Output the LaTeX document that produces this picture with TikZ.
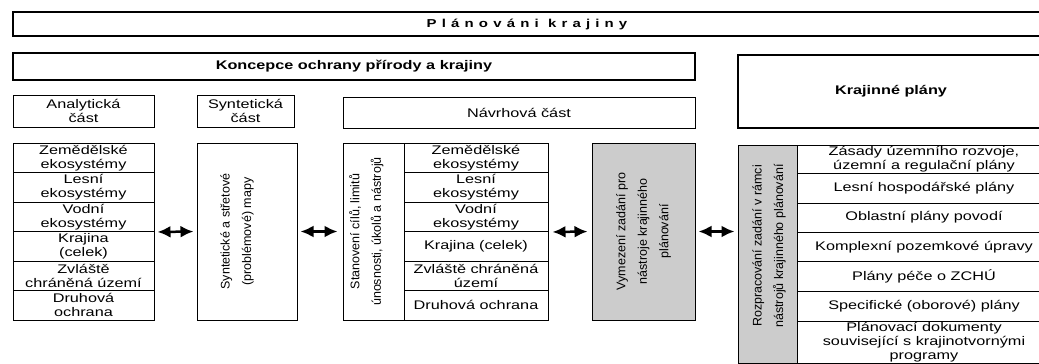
\documentclass[tikz,border=0pt]{standalone}
\usepackage{fontspec}
\setmainfont{Liberation Sans}[FakeStretch=1.3]
\newfontfamily\rotfont{Liberation Sans}
\newfontfamily\titlefont{Liberation Sans}[FakeStretch=1.3,LetterSpace=45]
\usetikzlibrary{arrows.meta}

\tikzset{
  box/.style={draw, line width=1pt, inner sep=0pt, align=center, font=\fontsize{12.5}{14}\selectfont},
  headbox/.style={draw, line width=2pt, inner sep=0pt, font=\bfseries\fontsize{12.5}{14}\selectfont},
  graybox/.style={box, fill=gray!40},
  rottext/.style={rotate=90, align=center, inner sep=0pt, font=\rotfont\fontsize{12.5}{21.5}\selectfont},
  dblarrow/.style={{Latex[length=13pt,width=12pt]}-{Latex[length=13pt,width=12pt]}, line width=2.5pt, shorten <=3pt, shorten >=3pt}
}

\begin{document}
\begin{tikzpicture}[x=1pt,y=-1pt]
\clip (0,0) rectangle (1039,364);
% headings
\node[headbox, minimum width=1028pt, minimum height=24pt] (plan) at (527,24) {\titlefont\bfseries\fontsize{11.5}{14}\selectfont Plánováni krajiny};
\node[headbox, minimum width=682pt, minimum height=27pt] (konc) at (354,66.5) {Koncepce ochrany přírody a krajiny};
\node[headbox, minimum width=306pt, minimum height=73pt] (kplany) at (891,91.5) {Krajinné plány};
\node[box, minimum width=141pt, minimum height=32pt] (anahead) at (83.5,111) {Analytická\\část};
\node[box, minimum width=97pt, minimum height=32pt] (synhead) at (245.5,111) {Syntetická\\část};
\node[box, minimum width=352pt, minimum height=31pt] (navhead) at (519,112.5) {Návrhová část};
% analyticka cast
\foreach \txt [count=\i] in {{Zemědělské\\ekosystémy},{Lesní\\ekosystémy},{Vodní\\ekosystémy},{Krajina\\(celek)},{Zvláště\\chráněná území},{Druhová\\ochrana}}
  \node[box, minimum width=141pt, minimum height=29.5pt] (a\i) at (83.5,{128.25+29.5*\i}) {\txt};
% synteticka cast
\node[box, minimum width=100pt, minimum height=177pt] (synt) at (247,231.5) {};
\node[rottext] (synttxt) at ([xshift=-10pt]synt.center) {Syntetické a střetové\\(problémové) mapy};
% navrhova cast
\node[box, minimum width=61pt, minimum height=177pt] (stan) at (373.5,231.5) {};
\node[rottext] (stantxt) at ([xshift=-7pt]stan.center) {Stanovení cílů, limitů\\únosnosti, úkolů a nástrojů};
\foreach \txt [count=\i] in {{Zemědělské\\ekosystémy},{Lesní\\ekosystémy},{Vodní\\ekosystémy},{Krajina (celek)},{Zvláště chráněná\\území},{Druhová ochrana}}
  \node[box, minimum width=144pt, minimum height=29.5pt] (n\i) at (476,{128.25+29.5*\i}) {\txt};
\node[graybox, minimum width=103pt, minimum height=177pt] (vym) at (643.5,231.5) {};
\node[rottext] (vymtxt) at (vym.center) {Vymezení zadání pro\\nástroje krajinného\\plánování};
% krajinne plany
\node[graybox, minimum width=59pt, minimum height=218pt] (rozp) at (767.5,254) {};
\node[rottext] (rozptxt) at ([xshift=1.5pt,yshift=8pt]rozp.center) {Rozpracování zadání v rámci\\nástrojů krajinného plánování};
\foreach \yc/\h/\txt [count=\i] in {159/28/{Zásady územního rozvoje,\\územní a regulační plány},188/30/{Lesní hospodářské plány},217.5/29/{Oblastní plány povodí},246.75/29.5/{Komplexní pozemkové úpravy},276.25/29.5/{Plány péče o ZCHÚ},306/30/{Specifické (oborové) plány},342/42/{Plánovací dokumenty\\související s krajinotvornými\\programy}}
  \node[box, minimum width=254pt, minimum height=\h pt] (r\i) at (924,\yc) {\txt};
% sipky
\draw[dblarrow] (a3.south east) -- (synt.west);
\draw[dblarrow, shorten >=5pt] (synt.east) -- (stan.west);
\draw[dblarrow, shorten <=4pt, shorten >=4pt] (n3.south east) -- (vym.west);
\draw[dblarrow] (vym.east) -- (vym.east -| rozp.west);
\end{tikzpicture}
\end{document}
